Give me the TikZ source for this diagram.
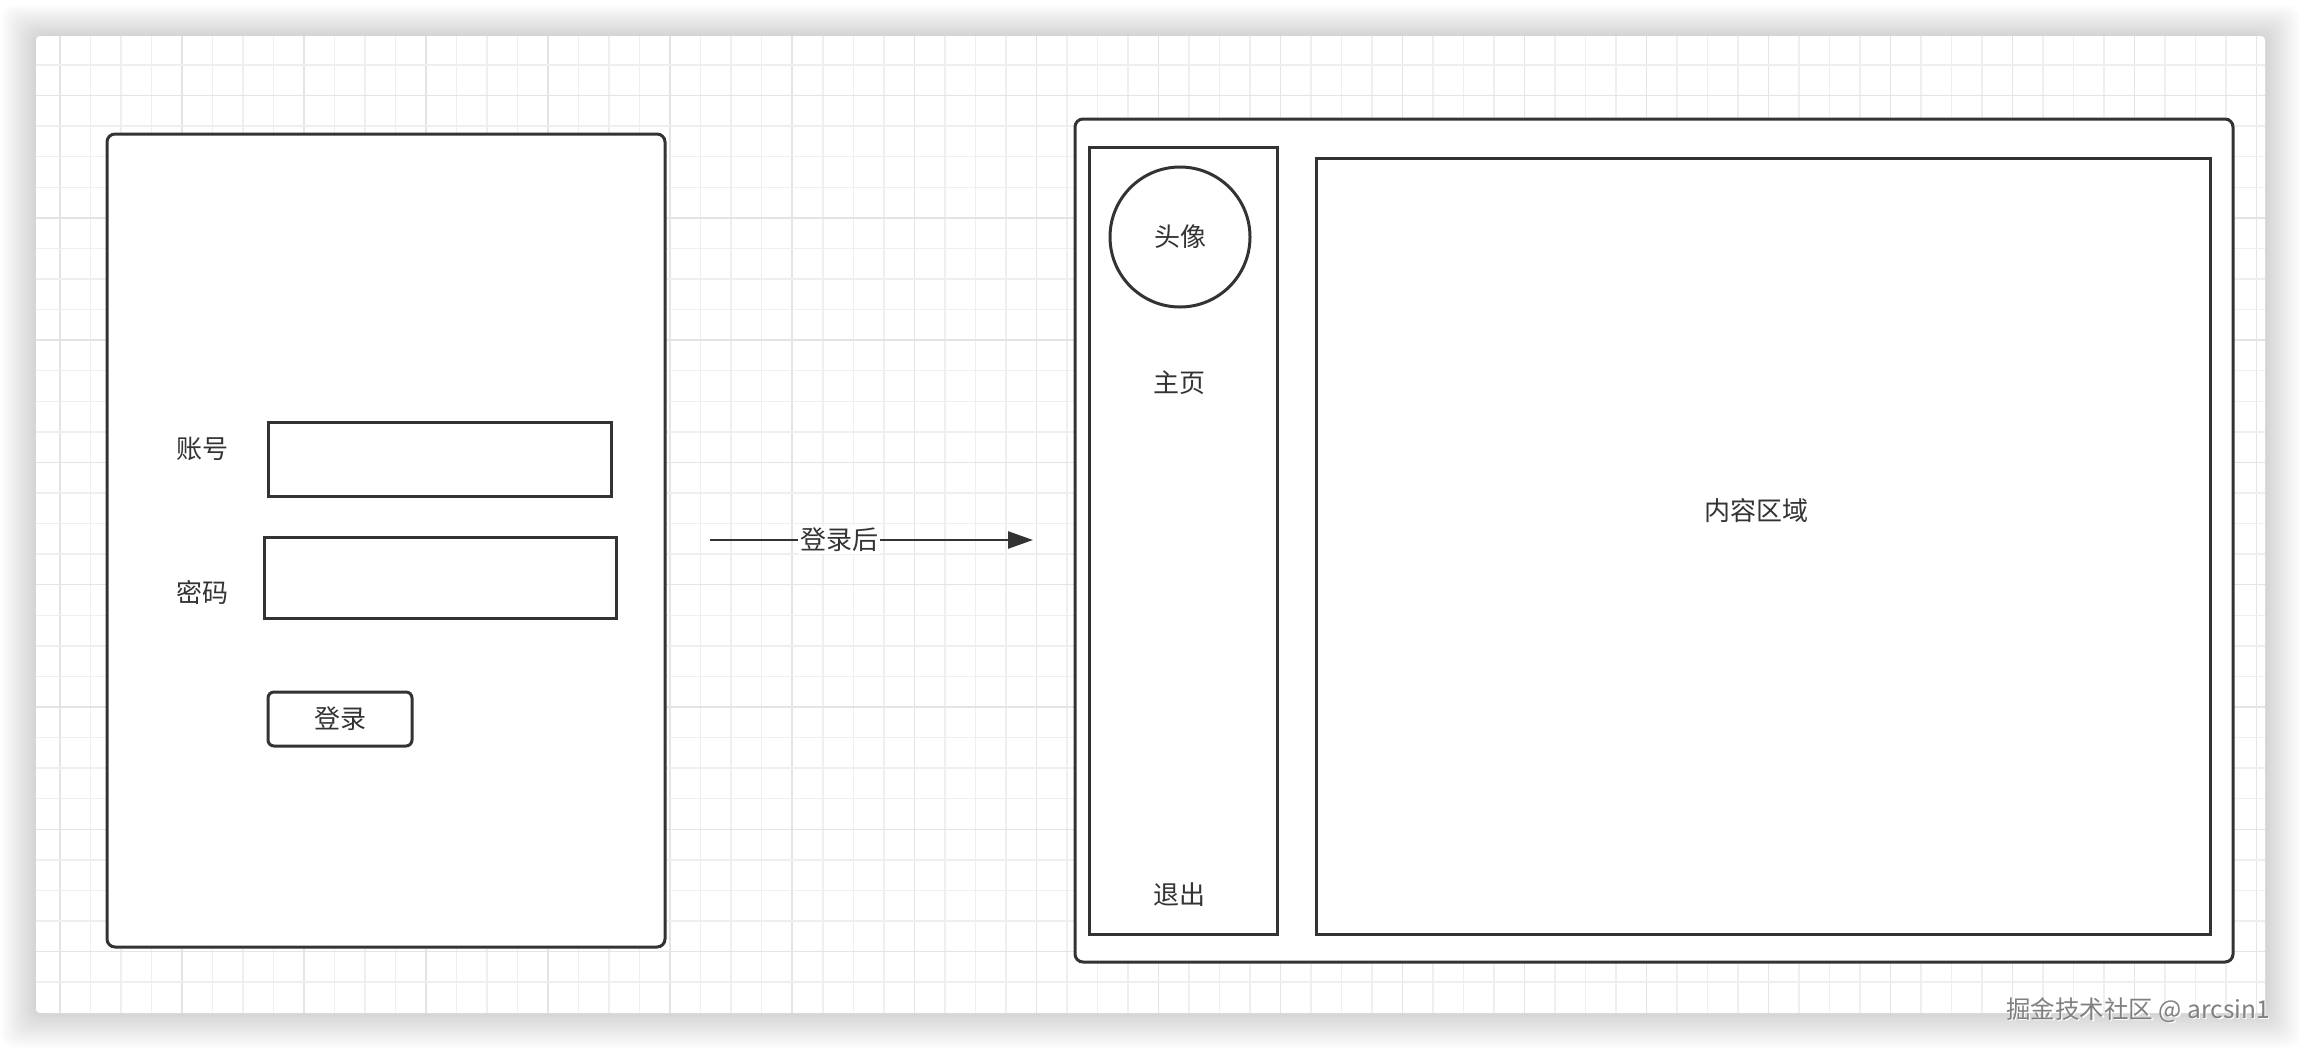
\documentclass[tikz,border=0pt]{standalone}
\usepackage{fontspec}
\setmainfont{Noto Sans CJK SC}
\usetikzlibrary{arrows.meta}
\definecolor{ink}{HTML}{333333}
\definecolor{gridminor}{HTML}{EFEFEF}
\definecolor{gridmajor}{HTML}{E4E4E4}
\tikzset{
  box/.style={draw=ink, line width=3pt, fill=white, inner sep=0pt},
  rbox/.style={box, rounded corners=8pt},
  lbl/.style={font=\fontsize{26}{30}\selectfont, text=ink, inner sep=1pt},
  conn/.style={draw=ink, line width=2.5pt, -{Triangle[length=25pt,width=17pt]}},
}
\begin{document}
\begin{tikzpicture}[x=1pt,y=-1pt]
\useasboundingbox (0,0) rectangle (2302,1050);
\fill[white] (0,0) rectangle (2302,1050);
% shadow
\foreach \i in {1,...,14}{
  \fill[black, opacity=0.010, rounded corners=12pt] (36-2.5*\i,36-2.2*\i) rectangle (2265+2.5*\i,1013+2.5*\i);
}
\fill[white, rounded corners=4pt] (36,36) rectangle (2265,1013);
% grid
\begin{scope}
\clip (36,36) rectangle (2265,1013);
\foreach \k in {0,...,72}{
  \pgfmathsetmacro{\xx}{60+30.51*\k}
  \pgfmathtruncatemacro{\m}{mod(\k,4)}
  \ifnum\m=0
    \draw[gridmajor, line width=1.5pt] (\xx,36) -- (\xx,1013);
  \else
    \draw[gridminor, line width=1.5pt] (\xx,36) -- (\xx,1013);
  \fi
}
\foreach \k in {-1,...,30}{
  \pgfmathsetmacro{\yy}{65+30.57*\k}
  \pgfmathtruncatemacro{\m}{mod(\k+7,4)}
  \ifnum\m=0
    \draw[gridmajor, line width=1.5pt] (36,\yy) -- (2265,\yy);
  \else
    \draw[gridminor, line width=1.5pt] (36,\yy) -- (2265,\yy);
  \fi
}
\end{scope}
% left login panel
\node[rbox, minimum width=558pt, minimum height=813pt] (login) at (386,540.5) {};
\node[box, minimum width=343pt, minimum height=74pt] (acct) at (439.5,459) {};
\node[box, minimum width=352pt, minimum height=81pt] (pwd) at (440,577.5) {};
\node[box, rounded corners=6pt, minimum width=144pt, minimum height=54pt, lbl] (btn) at (340,719) {登录};
\node[lbl] (acctlbl) at (202,449) {账号};
\node[lbl] (pwdlbl) at (202,592) {密码};
% arrow
\coordinate (arrS) at (710,540);
\coordinate (arrE) at (1033,540);
\draw[conn] (arrS) -- node[pos=0.4, fill=white, lbl, inner sep=2pt] (arrlbl) {登录后} (arrE);
% right main panel
\node[rbox, minimum width=1158pt, minimum height=843pt] (main) at (1654,540.5) {};
\node[box, minimum width=188pt, minimum height=787pt] (side) at (1183,540.5) {};
\node[box, circle, minimum size=140pt, lbl, line width=3pt, draw=ink] (avatar) at (1180,237) {头像};
\node[lbl] (home) at (1179,383) {主页};
\node[lbl] (logout) at (1179,895) {退出};
\node[box, minimum width=894pt, minimum height=776pt] (content) at (1763,546) {};
\node[lbl] (contentlbl) at (1756,511) {内容区域};
% watermark
\node[font=\fontsize{24.5}{28}\selectfont, text=white, inner sep=0pt] (wmshadow) at (2139.5,1011.5) {掘金技术社区 @ arcsin1};
\node[font=\fontsize{24.5}{28}\selectfont, text=gray, inner sep=0pt] (wm) at (2138,1010) {掘金技术社区 @ arcsin1};
\end{tikzpicture}
\end{document}
